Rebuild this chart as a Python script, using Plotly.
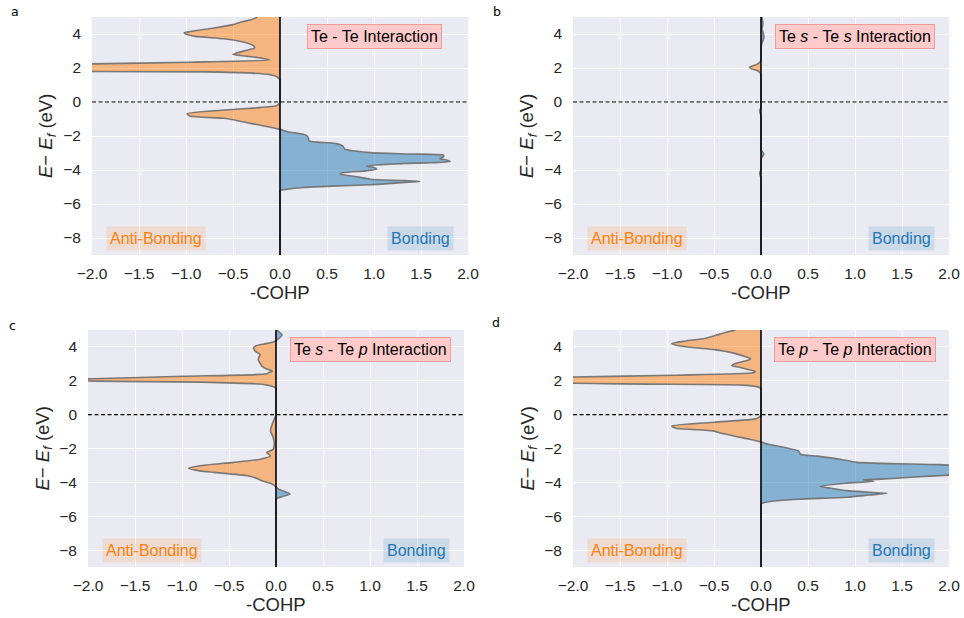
import numpy as np
import plotly.graph_objects as go

# ---------------- data ----------------
energy_a = [5.0, 4.85, 4.70, 4.55, 4.35, 4.15, 4.06, 3.95, 3.86, 3.72, 3.60, 3.47, 3.30, 3.18, 3.05,
            2.89, 2.80, 2.70, 2.58, 2.48, 2.34, 2.24, 2.12, 2.00, 1.88, 1.79, 1.77, 1.70, 1.61, 1.50,
            1.42, 1.30, 1.15, 0.10, -0.05, -0.15, -0.24, -0.46, -0.69, -0.82, -0.96, -1.10, -1.22,
            -1.35, -1.47, -1.61, -1.75, -1.90, -2.00, -2.10, -2.29, -2.36, -2.45, -2.59, -2.78, -2.88,
            -2.98, -3.06, -3.13, -3.22, -3.33, -3.42, -3.50, -3.58, -3.62, -3.76, -3.86, -3.95, -4.05,
            -4.15, -4.25, -4.40, -4.54, -4.62, -4.68, -4.76, -4.87, -4.95, -5.03, -5.13, -5.22, -5.40,
            -5.60, -9.0]
cohp_a = [-0.24, -0.30, -0.41, -0.50, -0.70, -0.95, -1.02, -0.98, -0.90, -0.60, -0.45, -0.35, -0.28,
          -0.27, -0.35, -0.46, -0.50, -0.36, -0.20, -0.11, -0.96, -2.0, -3.2, -3.6, -3.0, -2.0, -0.8,
          -0.3, -0.11, -0.04, -0.02, 0.0, 0.0, 0.0, 0.0, -0.02, -0.05, -0.55, -0.99, -0.96, -0.60,
          -0.45, -0.35, -0.22, -0.11, 0.0, 0.08, 0.25, 0.29, 0.30, 0.31, 0.40, 0.60, 0.67, 0.69, 0.80,
          0.96, 1.40, 1.74, 1.74, 1.70, 1.78, 1.81, 1.55, 1.31, 0.92, 1.00, 1.03, 0.92, 0.68, 0.64,
          0.82, 0.96, 1.30, 1.49, 1.25, 0.96, 0.55, 0.25, 0.08, 0.0, 0.0, 0.0, 0.0]

energy_b = [5.0, 4.6, 4.3, 4.05, 3.75, 3.47, 3.2, 2.5, 2.35, 2.2, 2.05, 1.95, 1.85, 1.72, 1.6,
            1.45, -0.15, -0.3, -0.55, -0.8, -0.95, -2.65, -2.8, -3.07, -3.35, -3.5, -3.8, -3.95,
            -4.2, -4.45, -4.6, -9.0]
cohp_b = [0.01, 0.02, 0.01, 0.025, 0.03, 0.01, 0.0, 0.0, -0.01, -0.05, -0.12, -0.10, -0.04, -0.01,
          0.0, 0.0, 0.0, 0.0, -0.015, 0.0, 0.0, 0.0, 0.0, 0.03, 0.0, 0.0, 0.0, 0.0, -0.015, 0.0,
          0.0, 0.0]

energy_c = [5.0, 4.85, 4.70, 4.55, 4.40, 4.30, 4.18, 4.05, 3.94, 3.84, 3.74, 3.55, 3.40, 3.25, 3.05,
            2.86, 2.70, 2.57, 2.48, 2.41, 2.27, 2.12, 2.05, 1.98, 1.92, 1.78, 1.65, 1.55, 1.40, 0.10,
            0.0, -0.15, -0.28, -0.57, -0.96, -1.26, -1.65, -2.04, -2.24, -2.43, -2.63, -2.82, -3.02,
            -3.16, -3.32, -3.41, -3.61, -3.81, -3.91, -4.10, -4.26, -4.40, -4.69, -4.85, -4.98, -5.15,
            -5.35, -9.0]
cohp_c = [0.01, 0.04, 0.065, 0.04, 0.005, -0.02, -0.12, -0.22, -0.24, -0.23, -0.22, -0.17, -0.18,
          -0.19, -0.17, -0.15, -0.10, -0.04, -0.08, -0.10, -0.98, -1.95, -2.4, -1.95, -0.80, -0.13,
          -0.03, 0.0, 0.0, 0.0, 0.0, -0.01, -0.02, -0.04, -0.06, -0.035, -0.02, -0.03, -0.10, -0.06,
          -0.17, -0.45, -0.81, -0.93, -0.81, -0.66, -0.30, -0.185, -0.15, -0.04, 0.0, 0.03, 0.15,
          0.06, 0.0, 0.0, 0.0, 0.0]

energy_d = [5.0, 4.85, 4.67, 4.50, 4.35, 4.20, 4.10, 3.95, 3.84, 3.65, 3.45, 3.29, 3.15, 3.00, 2.90,
            2.78, 2.62, 2.53, 2.47, 2.33, 2.22, 2.10, 2.00, 1.90, 1.84, 1.80, 1.73, 1.59, 1.50, 1.35,
            0.10, -0.04, -0.15, -0.25, -0.45, -0.67, -0.80, -0.96, -1.10, -1.26, -1.45, -1.61, -1.75,
            -1.88, -2.00, -2.14, -2.34, -2.45, -2.63, -2.82, -2.95, -3.10, -3.30, -3.45, -3.57, -3.70,
            -3.81, -3.85, -3.94, -4.05, -4.24, -4.35, -4.49, -4.58, -4.65, -4.75, -4.88, -5.00, -5.13,
            -5.27, -5.45, -5.65, -9.0]
cohp_d = [-0.27, -0.38, -0.49, -0.60, -0.80, -0.95, -0.90, -0.70, -0.50, -0.30, -0.18, -0.11, -0.18,
          -0.28, -0.31, -0.22, -0.10, -0.06, -0.08, -0.9, -2.0, -3.0, -3.3, -2.8, -1.8, -1.21, -0.15,
          -0.01, 0.0, 0.0, 0.0, 0.0, -0.02, -0.06, -0.50, -0.95, -0.90, -0.51, -0.42, -0.29, -0.12,
          0.0, 0.08, 0.20, 0.30, 0.40, 0.42, 0.60, 0.84, 1.02, 1.9, 2.4, 2.6, 2.4, 2.0, 1.6, 1.27,
          1.09, 1.20, 0.90, 0.63, 0.75, 0.91, 1.15, 1.34, 1.15, 0.91, 0.40, 0.10, 0.0, 0.0, 0.0, 0.0]

panel_letters = ["a", "b", "c", "d"]
panel_titles = ["Te - Te Interaction",
                "Te <i>s</i> - Te <i>s</i> Interaction",
                "Te <i>s</i> - Te <i>p</i> Interaction",
                "Te <i>p</i> - Te <i>p</i> Interaction"]
x_tick_vals = [-2.0, -1.5, -1.0, -0.5, 0.0, 0.5, 1.0, 1.5, 2.0]
x_tick_text = ["\u22122.0", "\u22121.5", "\u22121.0", "\u22120.5", "0.0", "0.5", "1.0", "1.5", "2.0"]
y_tick_vals = [-8, -6, -4, -2, 0, 2, 4]
y_tick_text = ["\u22128", "\u22126", "\u22124", "\u22122", "0", "2", "4"]
x_range = [-2, 2]
y_range = [-9, 5]
fermi_level = 0.0
x_title = "-COHP"
y_title = "<i>E</i>\u2212 <i>E<sub>f</sub></i> (eV)"

# ---------------- layout geometry ----------------
W, H = 964, 618
# plot areas in pixels: (left, right, top, bottom)
boxes = [(92, 468, 17, 255), (573, 949, 17, 255), (88, 464, 330, 567), (573, 949, 330, 567)]
letter_pos = [(15, 12), (497, 12), (12, 325), (496, 323)]

FONT = "Liberation Sans, Arial, sans-serif"
BG = "#EAEAF2"
ORANGE = "#FF7F0E"
BLUE = "#1F77B4"
LINE_SHAPE = dict(shape="spline", smoothing=0.6)

series = [(energy_a, cohp_a), (energy_b, cohp_b), (energy_c, cohp_c), (energy_d, cohp_d)]

fig = go.Figure()
layout = dict(width=W, height=H, margin=dict(l=0, r=0, t=0, b=0, autoexpand=False),
              paper_bgcolor="white", plot_bgcolor=BG, showlegend=False,
              font=dict(family=FONT, color="#262626"))
annotations = []
shapes = []

for i, ((en, val), (l, r, t, b)) in enumerate(zip(series, boxes)):
    k = "" if i == 0 else str(i + 1)
    xa, ya = "x" + k, "y" + k
    en = np.array(en, dtype=float)
    val = np.array(val, dtype=float)
    neg = np.minimum(val, 0)
    pos = np.maximum(val, 0)
    fig.add_trace(go.Scatter(x=neg, y=en, mode="lines", fill="tozerox",
                             fillcolor="rgba(255,127,14,0.5)", line=dict(width=0, **LINE_SHAPE),
                             xaxis=xa, yaxis=ya, hoverinfo="skip"))
    fig.add_trace(go.Scatter(x=pos, y=en, mode="lines", fill="tozerox",
                             fillcolor="rgba(31,119,180,0.5)", line=dict(width=0, **LINE_SHAPE),
                             xaxis=xa, yaxis=ya, hoverinfo="skip"))
    fig.add_trace(go.Scatter(x=val, y=en, mode="lines",
                             line=dict(color="rgba(110,110,110,0.9)", width=1.6, **LINE_SHAPE),
                             xaxis=xa, yaxis=ya, hoverinfo="skip"))

    axis_common = dict(showgrid=True, gridcolor="white", gridwidth=1.2, zeroline=False,
                       showline=False, ticks="", automargin=False,
                       tickfont=dict(size=15.5, family=FONT, color="#262626"))
    layout["xaxis" + k] = dict(domain=[l / W, r / W], anchor=ya, range=x_range,
                               tickvals=x_tick_vals, ticktext=x_tick_text,
                               ticklabelstandoff=7, **axis_common)
    layout["yaxis" + k] = dict(domain=[1 - b / H, 1 - t / H], anchor=xa, range=y_range,
                               tickvals=y_tick_vals, ticktext=y_tick_text,
                               ticklabelstandoff=10, **axis_common)

    # reference lines
    shapes.append(dict(type="line", xref=xa + " domain", yref=ya, x0=0, x1=1,
                       y0=fermi_level, y1=fermi_level,
                       line=dict(color="black", width=1.1, dash="4px,2.5px"), layer="above"))
    shapes.append(dict(type="line", xref=xa, yref=ya + " domain", x0=0, x1=0, y0=0, y1=1,
                       line=dict(color="black", width=1.6), layer="above"))

    # axis titles
    annotations.append(dict(text=x_title, xref=xa + " domain", yref=ya + " domain", x=0.5, y=0,
                            xanchor="center", yanchor="middle", yshift=-37, showarrow=False,
                            font=dict(size=18.5, family=FONT, color="#262626")))
    annotations.append(dict(text=y_title, xref=xa + " domain", yref=ya + " domain", x=0, y=0.5,
                            xanchor="center", yanchor="middle", xshift=-45, textangle=-90,
                            showarrow=False, font=dict(size=18.5, family=FONT, color="#262626")))
    # panel letter
    lx, ly = letter_pos[i]
    annotations.append(dict(text=panel_letters[i], xref="paper", yref="paper",
                            x=lx / W, y=1 - ly / H,
                            xanchor="center", yanchor="middle", showarrow=False,
                            font=dict(size=12.5, family="DejaVu Sans", color="black")))
    # title box
    annotations.append(dict(text=panel_titles[i], xref=xa, yref=ya, x=1.0, y=3.85,
                            xanchor="center", yanchor="middle", showarrow=False,
                            bgcolor="#FFCACA", bordercolor="#F39A9A", borderwidth=1, borderpad=3,
                            font=dict(size=16, family=FONT, color="black")))
    # bonding labels
    annotations.append(dict(text="Anti-Bonding", xref=xa, yref=ya, x=-1.85, y=-8.05,
                            xanchor="left", yanchor="middle", showarrow=False,
                            bgcolor="rgba(255,127,14,0.15)", borderpad=3,
                            font=dict(size=16, family=FONT, color=ORANGE)))
    annotations.append(dict(text="Bonding", xref=xa, yref=ya, x=1.85, y=-8.05,
                            xanchor="right", yanchor="middle", showarrow=False,
                            bgcolor="rgba(31,119,180,0.15)", borderpad=3,
                            font=dict(size=16, family=FONT, color=BLUE)))

layout["annotations"] = annotations
layout["shapes"] = shapes
fig.update_layout(**layout)
fig.write_html("out.html", config={"displayModeBar": False},
               post_script="document.body.style.margin='0';")
